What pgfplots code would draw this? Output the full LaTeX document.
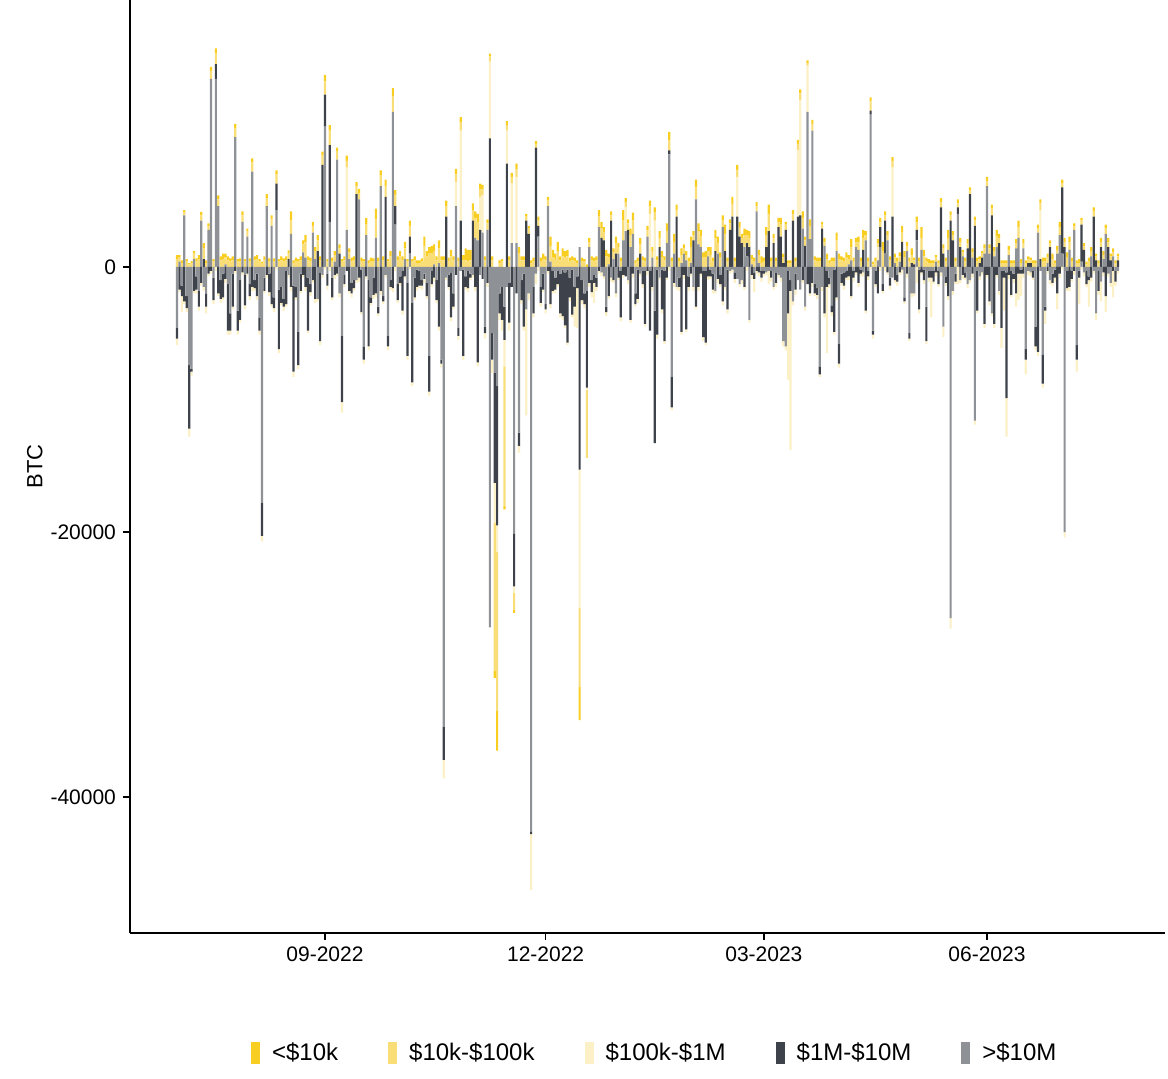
\documentclass[border=0pt]{standalone}
\usepackage{fontspec}
\setmainfont{Liberation Sans}
\usepackage{pgfplots}
\usepackage{pgfplotstable}
\pgfplotsset{compat=1.18}
\definecolor{cA}{HTML}{F9CE23}
\definecolor{cB}{HTML}{F9DE78}
\definecolor{cC}{HTML}{FCF0C6}
\definecolor{cE}{HTML}{3E424A}
\definecolor{cF}{HTML}{8E9195}
\pgfplotstableread{
d a b c e f
-61 300 600 -500 -800 -4600
-60 200 300 -200 -1700 400
-59 200 300 -1200 -800 -1400
-58 150 250 -200 -2600 3900
-57 200 400 -300 -900 -2200
-56 100 200 -600 -4800 -7400
-55 150 300 -300 -200 -7700
-54 200 400 -200 -1800 600
-53 250 400 -300 -1000 -700
-52 300 600 -300 -1200 -1800
-51 250 400 -200 -1200 3500
-50 400 800 -300 600 -1500
-49 200 300 -500 -1000 -2000
-48 200 300 -200 -500 2800
-47 300 600 -200 -300 14200
-46 200 400 -300 -1700 -800
-45 400 800 -300 1100 14200
-44 300 500 -200 -2000 4600
-43 300 500 -300 -1400 -1000
-42 400 600 -200 -1800 -500
-41 300 500 -300 -900 200
-40 300 500 -300 -3500 -1300
-39 250 400 -300 -1300 -3500
-38 300 500 -200 -2500 -500
-37 300 700 -200 -300 9800
-36 200 400 -300 -1500 -3300
-35 250 400 -200 -3000 -1000
-34 300 500 -200 -400 3400
-33 200 400 -300 -2300 -600
-32 200 400 -200 -500 2300
-31 250 400 -300 -900 -1300
-30 300 700 -300 -1500 7200
-29 300 500 -200 -600 -1000
-28 300 600 -300 -1700 -500
-27 200 400 -300 -1000 -3800
-26 100 300 -400 -2500 -17800
-25 300 500 -200 -1000 -800
-24 300 600 -200 -600 4600
-23 250 400 -300 -1400 -500
-22 300 500 -200 -2800 3100
-21 250 400 -300 -800 -2300
-20 300 700 -200 2000 4300
-19 200 400 -300 -4500 -1700
-18 300 500 -200 -1200 -1500
-17 250 400 -300 -600 -2400
-16 300 500 -200 -2500 -300
-15 250 400 -200 600 -600
-14 700 1000 -300 -1500 2500
-13 200 300 -400 -6500 -1400
-12 300 400 -200 -800 -1500
-11 200 400 -300 -2500 -4900
-10 300 500 -200 -1300 -500
-9 300 600 -200 -600 1100
-8 500 1200 -300 -1500 700
-7 300 500 -200 -4000 -800
-6 300 400 -300 -600 -1300
-5 300 500 -200 -1000 2600
-4 300 600 -300 -2400 600
-3 400 800 -200 1200 -2400
-2 300 500 -300 -5200 -400
-1 300 700 -200 7700 -600
0 500 1000 -200 2400 10600
1 200 400 -300 -900 -500
2 400 1100 -300 5800 3400
3 300 400 -200 -1500 -800
4 300 500 -300 -600 400
5 300 600 -200 -500 8100
6 300 400 -300 1000 -2000
7 200 400 -800 -5000 -5200
8 300 500 -200 -700 -600
9 400 500 4700 -300 2800
10 300 500 -200 -1800 600
11 300 400 -300 -800 -1200
12 300 500 -200 -600 -1000
13 300 600 -200 5500 -1000
14 300 500 -300 -800 5100
15 300 400 -200 -3200 -200
16 200 400 -300 -1000 -6000
17 500 800 -200 -700 2400
18 200 300 -300 -5000 -1000
19 300 400 -200 -400 -2300
20 250 400 -300 -1300 -800
21 800 1400 -300 -2000 2200
22 300 400 -200 -500 -3000
23 400 800 -300 -1800 6100
24 300 500 -200 -400 -2200
25 500 800 -200 5300 -600
26 200 400 -300 -800 -5200
27 400 800 -200 -500 -1000
28 600 1200 -300 -1600 11700
29 400 800 -300 1400 3200
30 300 500 -200 -1200 -1300
31 400 800 -200 -500 -700
32 300 500 -300 -3000 -300
33 500 800 -200 -700 600
34 200 400 -300 -5500 -1200
35 400 800 -200 1300 1000
36 200 400 -300 -6000 -2700
37 300 500 -200 -1500 -800
38 200 300 -300 -1300 -200
39 200 300 -200 -1100 -300
40 250 400 -300 -400 -1000
41 700 1600 -300 -400 -500
42 400 800 -200 -1000 -1200
43 500 1000 -300 -2700 -6700
44 600 1000 -200 -1000 -300
45 500 1000 -300 -800 200
46 300 500 -200 -1500 -1000
47 600 1100 -300 -4500 300
48 300 500 -300 -300 -7000
49 300 500 -1400 -2500 -34700
50 400 800 -200 3800 -800
51 300 400 -200 -900 -600
52 500 800 -300 -3400 -400
53 300 500 -200 -1000 -2000
54 400 600 1800 -600 4600
55 300 400 -300 -600 -4600
56 400 600 6800 3500 -300
57 400 500 -300 -6500 -200
58 900 500 -200 -800 -700
59 900 400 -300 -1300 -300
60 800 500 -200 -300 -500
61 500 800 -200 3500 -600
62 500 1500 -300 -1500 2200
63 600 1400 -300 -7200 2000
64 400 600 2500 2800 -600
65 300 500 2800 -900 2600
66 300 500 -400 -500 -4500
67 300 500 -300 -1200 2800
68 200 400 5800 9700 -27200
69 300 500 -1000 -2000 -5000
70 -500 -11200 -3000 -8300 -8000
71 -3000 -12000 -2000 -10500 -9000
72 200 300 -500 -1500 -2000
73 200 400 -800 -2500 -1500
74 -300 -10500 -2000 -2500 -3000
75 300 400 2500 7800 -1500
76 300 500 -600 -3000 -1200
77 300 500 4500 -1500 1800
78 -200 -1300 -500 -4000 -20100
79 400 600 5000 -2000 1800
80 500 1000 -500 -1000 -12500
81 300 500 -300 -1500 -1000
82 300 500 -300 -4000 -500
83 200 300 -8000 3500 -3200
84 200 400 -500 2500 -2000
85 200 300 -4200 -200 -42600
86 300 400 -300 -2000 -1500
87 200 300 -800 9000 -500
88 300 400 -300 800 2300
89 300 400 -300 -1200 -1500
90 400 600 -200 -1200 -500
91 300 500 -300 -400 -2800
92 300 400 -200 -300 4600
93 700 1200 -300 -2800 400
94 600 700 -200 -1500 -300
95 400 600 -300 -900 -800
96 700 1200 -200 -1000 -300
97 300 500 -300 -3000 -500
98 600 800 -300 -3500 -200
99 500 700 -200 -4000 -400
100 500 800 -200 -5500 -200
101 300 400 -300 -1500 -800
102 300 500 -200 -3400 -200
103 300 400 -1500 -1500 -1500
104 200 300 -3000 -900 -700
105 -2500 -6000 -10400 -15300 1500
106 300 400 -300 -1500 -1000
107 200 400 -300 -800 -2000
108 200 -5100 -200 -7300 -1800
109 300 400 -300 -1200 1500
110 300 500 -400 -900 -1000
111 300 400 -1500 -600 -600
112 300 500 -300 -700 -800
113 500 800 -200 -300 3000
114 500 700 -300 2200 -400
115 400 600 -200 2000 -700
116 500 800 -300 -400 -3000
117 300 500 -200 -2200 200
118 300 400 -300 3500 -800
119 300 500 -200 -1000 600
120 500 800 -300 1000 -2000
121 300 500 -200 -800 1000
122 300 400 -300 -3500 -300
123 800 1500 -200 -600 2000
124 300 400 1800 -700 2700
125 300 500 -300 2800 -1000
126 500 900 -200 -4000 1500
127 600 1000 -300 -500 2500
128 200 300 -200 -800 -2000
129 300 400 -300 -2200 -200
130 500 700 -200 1000 -500
131 300 500 -300 -1000 -300
132 300 400 -200 -4000 -300
133 300 500 -300 -300 2300
134 400 600 4000 -4500 -300
135 300 500 -300 -1500 700
136 400 600 3500 -10000 -3300
137 300 500 -300 -4900 -200
138 500 700 -200 1500 -800
139 500 700 -300 -3000 -200
140 300 500 -200 -5300 -300
141 600 900 -200 -800 1800
142 600 800 -300 300 8500
143 300 400 -200 -2300 -8300
144 600 900 -300 -1200 1000
145 400 500 -200 3800 -1500
146 300 400 -300 -700 -800
147 500 600 -200 -4900 300
148 300 400 -300 -600 1000
149 300 400 -200 -4700 500
150 300 400 -300 -800 -700
151 800 1200 -200 -500 300
152 300 400 -300 2000 -1500
153 600 900 -200 -3000 5100
154 600 1000 -300 -1500 1700
155 500 800 -200 -500 1500
156 400 700 -300 -5000 -300
157 500 700 -200 -5400 -300
158 300 400 -300 -700 800
159 600 900 -200 -500 -200
160 300 400 -300 -1200 -500
161 600 1000 -200 1200 -1800
162 500 800 -300 -900 1000
163 400 700 -200 -700 -600
164 400 500 -300 -2600 3000
165 700 1300 -200 1200 -1500
166 300 400 -300 -3000 -200
167 300 500 -200 2800 -300
168 600 900 -200 3800 -200
169 300 400 -300 -500 -400
170 400 500 3000 3800 -900
171 400 700 -200 2300 -1300
172 300 400 -300 1800 -1000
173 500 900 -200 -1500 1500
174 400 600 -300 1000 800
175 500 700 -200 1500 -4000
176 300 400 -300 -600 200
177 300 400 -1000 -500 -400
178 300 400 -200 -300 4200
179 400 600 -300 -400 300
180 500 300 -300 -500 -300
181 300 400 -200 -200 -300
182 600 900 -200 1500 -400
183 700 1300 -1000 2700 -300
184 300 400 -300 -500 -300
185 300 400 -200 1800 -1500
186 300 400 -300 -800 -400
187 300 400 -200 3000 -600
188 500 900 -300 2300 -800
189 300 400 -400 300 -5600
190 200 400 -300 2800 -6000
191 200 300 -5000 -3200 -300
192 200 300 -12000 -800 -1000
193 300 500 -300 3500 -2600
194 300 400 -400 -1200 -500
195 300 500 5000 3800 -1000
196 300 500 8700 3900 -1700
197 500 800 -200 -1000 2900
198 300 400 -300 1600 -3000
199 200 200 3500 -1300 11700
200 500 1000 -200 -2000 2100
201 300 500 -300 -1200 10300
202 300 500 -200 -700 -1300
203 300 400 -300 -500 -1600
204 300 400 -200 -600 -7500
205 200 300 -300 2900 -1500
206 300 300 -300 -3500 1600
207 400 600 -5000 -1200 -300
208 200 300 -300 -500 -800
209 300 400 -300 -500 -2900
210 300 400 -200 -4700 -200
211 600 800 -200 -2300 1200
212 400 600 -300 -1500 -5800
213 300 500 -200 -700 -500
214 300 400 -300 -1000 -400
215 400 700 -200 -500 -300
216 300 400 -300 -700 200
217 600 1000 -200 -2200 500
218 300 400 -300 -500 -300
219 300 400 -200 -400 1500
220 400 600 -300 -1200 1300
221 300 400 -200 -300 -200
222 600 900 -300 1300 -400
223 300 400 -200 -3300 2000
224 300 400 -300 -400 -300
225 300 700 -200 300 11500
226 200 200 -300 -300 -4800
227 300 400 -200 -1000 -300
228 300 300 1000 -2000 500
229 300 400 -300 1500 1500
230 700 1200 -200 -500 -1300
231 300 400 -300 2500 1000
232 300 400 -200 -400 2000
233 300 500 -300 -600 -800
234 300 500 3700 3800 -800
235 300 400 -200 -1000 300
236 300 400 -300 -500 -600
237 300 400 -200 -400 400
238 500 700 -300 1900 -200
239 500 700 -200 -300 -2300
240 300 400 -300 -500 1200
241 300 400 -200 -400 -5000
242 500 600 -300 300 -2000
243 200 300 -200 200 -2000
244 400 600 -1200 800 2000
245 300 400 -300 -3000 -200
246 800 900 -200 -400 1300
247 500 800 -300 -800 -200
248 300 400 -200 -2600 -3000
249 300 300 -300 -500 -300
250 200 300 -3000 -500 -300
251 200 300 -200 -800 -300
252 200 300 -300 -400 400
253 200 300 -200 -1000 -300
254 300 400 -300 4500 -400
255 300 400 -800 1000 -4500
256 300 400 -200 -500 -700
257 600 900 -300 -2200 1300
258 300 400 -800 3500 -26500
259 300 400 -300 2000 -1800
260 300 400 -200 -600 -500
261 300 300 -1300 500 4000
262 300 400 -200 1500 -1000
263 200 300 -300 -600 800
264 300 400 -200 -400 -400
265 300 400 -300 1400 -1300
266 200 300 -200 5500 -1000
267 300 400 -300 -500 700
268 300 400 -300 3100 -11600
269 300 400 -200 -3000 -300
270 200 300 -300 300 -700
271 200 300 -200 700 -400
272 300 400 -300 -4300 1000
273 300 400 -200 -600 6100
274 300 400 -300 -2600 1000
275 300 500 -200 3900 -3500
276 300 400 -300 -4300 800
277 500 800 -200 -600 1500
278 300 400 -300 1800 -1800
279 200 300 -1500 -4300 -300
280 200 300 -2500 -500 -300
281 200 300 -2900 -9500 -400
282 300 400 -300 -600 900
283 200 300 -200 -1800 -300
284 200 300 -300 -400 -500
285 300 400 -1000 -2000 1400
286 500 800 -2000 -500 2200
287 300 300 -1700 -300 -200
288 300 400 -300 -500 1400
289 200 300 -1100 -800 -6200
290 200 300 -300 300 -300
291 200 200 -300 300 -400
292 200 300 -200 -500 -300
293 200 300 -300 -1500 -4500
294 300 300 -300 -6400 2600
295 300 500 3700 600 -300
296 300 400 -300 -2200 -6600
297 300 400 -1000 -300 -3000
298 300 400 -200 -300 300
299 200 300 -300 1500 -1000
300 400 600 -200 -700 -500
301 200 300 -300 -600 -200
302 300 300 -1200 -2000 1000
303 400 600 -300 -500 2400
304 300 300 -200 5000 1000
305 300 400 -400 1500 -20000
306 400 700 -200 -1300 -300
307 400 600 -300 -1500 1300
308 300 400 -200 -600 -300
309 200 300 -300 -300 2800
310 200 300 -900 -1100 -5900
311 300 300 -2000 -500 -300
312 200 300 -200 2800 400
313 200 300 -300 1300 -400
314 200 200 -200 -1000 -300
315 300 400 -2000 -300 -700
316 300 400 -300 -800 800
317 300 400 -200 3800 -300
318 200 300 -500 500 -3500
319 200 300 -300 -1500 -300
320 300 400 -1500 1500 -1100
321 300 300 -300 -400 600
322 300 400 -1200 -2200 2500
323 300 400 -200 1500 -500
324 200 300 -300 500 -1200
325 300 300 -2000 -300 800
326 200 300 -300 -800 -300
327 200 300 -200 500 -300
}\flows

\pgfplotsset{
  base/.style={
    scale only axis, width=517.5pt, height=466.5pt,
    xmin=-80.4, xmax=346.4, ymin=-50260, ymax=20150,
    ybar stacked, bar width=0.9,
  },
  key/.style={legend image code/.code={\fill[#1] (0pt,-5.5pt) rectangle (4.5pt,5.5pt);}},
}

\begin{document}
\begin{tikzpicture}
\path[use as bounding box] (-65pt,-73pt) rectangle (519pt,466.5pt);
\begin{axis}[base,
  axis x line*=bottom, axis y line*=left,
  axis line style={line width=0.7pt, black},
  scaled y ticks=false, scaled x ticks=false,
  xtick={0,91,181,273}, xticklabels={09-2022,12-2022,03-2023,06-2023},
  ytick={-40000,-20000,0}, yticklabels={-40000,-20000,0},
  tick align=outside, major tick length=3.5pt,
  tick style={line width=0.6pt, black},
  ticklabel style={font=\fontsize{10.5}{12}\selectfont},
  ylabel={BTC},
  every axis y label/.style={at={(axis description cs:-0.092,0.5)},rotate=90,anchor=center,font=\fontsize{11}{13}\selectfont},
  legend style={at={(0.508,-0.1286)}, anchor=center, draw=none, legend columns=5,
    font=\fontsize{12}{14}\selectfont,
    /tikz/every odd column/.append style={column sep=4pt},
    /tikz/every even column/.append style={column sep=23pt}},
  reverse legend,
]
\addplot[fill=cF, draw=none, key=cF] table[x=d, y expr={max(\thisrow{f},0)}] {\flows};
\addlegendentry{>\$10M}
\addplot[fill=cE, draw=none, key=cE] table[x=d, y expr={max(\thisrow{e},0)}] {\flows};
\addlegendentry{\$1M-\$10M}
\addplot[fill=cC, draw=none, key=cC] table[x=d, y expr={max(\thisrow{c},0)}] {\flows};
\addlegendentry{\$100k-\$1M}
\addplot[fill=cB, draw=none, key=cB] table[x=d, y expr={max(\thisrow{b},0)}] {\flows};
\addlegendentry{\$10k-\$100k}
\addplot[fill=cA, draw=none, key=cA] table[x=d, y expr={max(\thisrow{a},0)}] {\flows};
\addlegendentry{<\$10k}
\end{axis}
\begin{axis}[base, hide axis]
\addplot[fill=cF, draw=none] table[x=d, y expr={min(\thisrow{f},0)}] {\flows};
\addplot[fill=cE, draw=none] table[x=d, y expr={min(\thisrow{e},0)}] {\flows};
\addplot[fill=cC, draw=none] table[x=d, y expr={min(\thisrow{c},0)}] {\flows};
\addplot[fill=cB, draw=none] table[x=d, y expr={min(\thisrow{b},0)}] {\flows};
\addplot[fill=cA, draw=none] table[x=d, y expr={min(\thisrow{a},0)}] {\flows};
\end{axis}
\end{tikzpicture}
\end{document}
